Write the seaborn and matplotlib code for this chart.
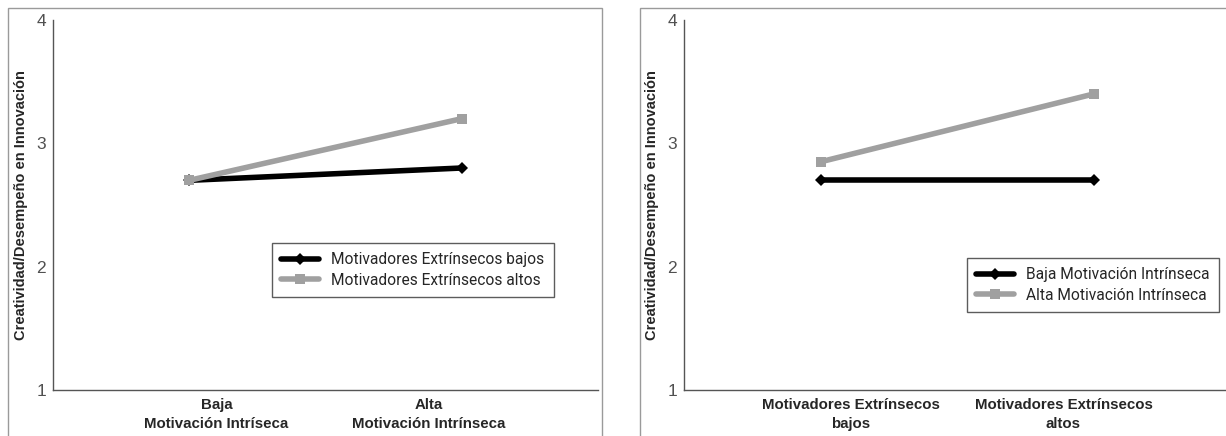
import matplotlib
matplotlib.use("Agg")
import matplotlib.pyplot as plt
import pandas as pd
import seaborn as sns
from matplotlib.patches import Rectangle

# data
left_levels = ["Baja\nMotivación Intríseca", "Alta\nMotivación Intrínseca"]
left_series = ["Motivadores Extrínsecos bajos", "Motivadores Extrínsecos altos"]
left_low = [2.7, 2.8]
left_high = [2.7, 3.2]

right_levels = ["Motivadores Extrínsecos\nbajos", "Motivadores Extrínsecos\naltos"]
right_series = ["Baja Motivación Intrínseca", "Alta Motivación Intrínseca"]
right_low = [2.7, 2.7]
right_high = [2.85, 3.4]

y_label = "Creatividad/Desempeño en Innovación"

W, H = 1226, 436


def to_frame(levels, series, low, high):
    rows = []
    for name, vals in zip(series, [low, high]):
        for lvl, v in zip(levels, vals):
            rows.append({"nivel": lvl, "grupo": name, "valor": v})
    return pd.DataFrame(rows)


def draw_panel(ax, levels, series, low, high, label_pos, xmax):
    df = to_frame(levels, series, low, high)
    palette = {series[0]: "#000000", series[1]: "#a0a0a0"}
    markers = {series[0]: "D", series[1]: "s"}
    sns.lineplot(
        data=df, x="nivel", y="valor", hue="grupo", style="grupo",
        palette=palette, markers=markers, dashes=False, linewidth=4,
        markersize=6.5, markeredgewidth=0, sort=False, ax=ax,
    )
    ax.set_xlim(-0.5, xmax)
    ax.set_ylim(1, 4)
    ax.set_yticks([1, 2, 3, 4])
    ax.tick_params(axis="y", labelsize=12.5, labelcolor="#505050", length=3,
                   width=0.8, color="#555555", pad=2)
    ax.set_xticks(label_pos)
    ax.set_xticklabels(levels, fontsize=10.8, fontweight="bold", linespacing=1.4)
    ax.tick_params(axis="x", which="major", length=0, pad=6)
    ax.set_xticks([-0.5, 0, 0.5, 1, 1.5], minor=True)
    ax.tick_params(axis="x", which="minor", length=3, width=0.8, color="#555555")
    ax.set_xlabel("")
    ax.set_ylabel(y_label, fontsize=10.5, fontweight="bold", labelpad=6)
    for side in ["top", "right"]:
        ax.spines[side].set_visible(False)
    for side in ["left", "bottom"]:
        ax.spines[side].set_color("#555555")
        ax.spines[side].set_linewidth(1.0)
    ax.grid(False)
    return ax


def add_legend(ax, x_px, y_px, ax_x0, ax_w):
    leg = ax.legend(loc="upper left",
                    bbox_to_anchor=((x_px - ax_x0) / ax_w, 1 - (y_px - 20) / 370),
                    frameon=True, fancybox=False, edgecolor="#333333",
                    prop={"family": "Roboto", "size": 11.2}, handlelength=2.4,
                    borderpad=0.6, labelspacing=0.35, handletextpad=0.8,
                    borderaxespad=0)
    leg.get_frame().set_linewidth(1.0)
    return leg


sns.set_theme(style="white")
plt.rcParams["font.family"] = ["Liberation Sans", "DejaVu Sans"]

fig = plt.figure(figsize=(W / 100, H / 100), dpi=100)

# chart area frames
for x0, x1 in [(8, 602), (640, 1240)]:
    fig.patches.append(Rectangle((x0 / W, -0.05), (x1 - x0) / W, 1.05 - 8 / H,
                                 transform=fig.transFigure, fill=False,
                                 edgecolor="#9a9a9a", linewidth=1.0))

ax1 = fig.add_axes([53 / W, 1 - 390 / H, 545 / W, 370 / H])
draw_panel(ax1, left_levels, left_series, left_low, left_high, [0.1, 0.88], 1.5)
add_legend(ax1, 272, 243, 53, 545)

ax2 = fig.add_axes([684 / W, 1 - 390 / H, 546 / W, 370 / H])
draw_panel(ax2, right_levels, right_series, right_low, right_high, [0.11, 0.89], 1.5)
add_legend(ax2, 967, 258, 684, 546)

fig.savefig("out.png", dpi=100)
